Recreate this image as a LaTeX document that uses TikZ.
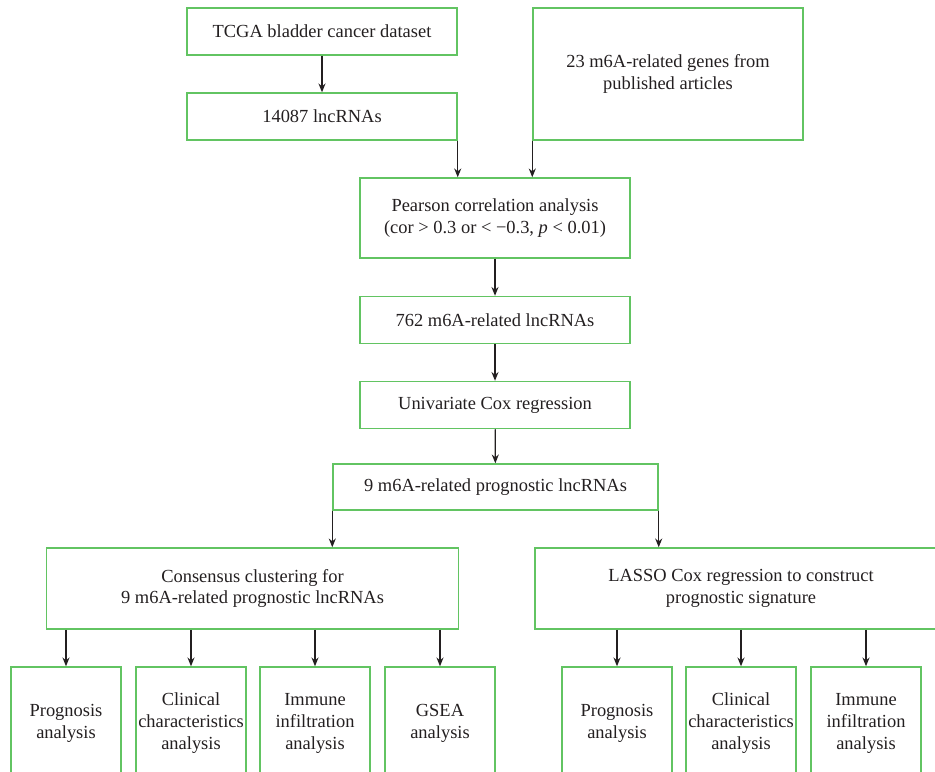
\documentclass[tikz,border=0pt]{standalone}
\usepackage{fontspec}
\setmainfont{Liberation Serif}
\usetikzlibrary{arrows.meta}

\definecolor{boxgreen}{RGB}{98,196,98}
\definecolor{inkgray}{RGB}{35,31,32}

\begin{document}
\begin{tikzpicture}[x=0.02cm, y=-0.02cm, >={Stealth[length=5pt, width=4pt]},
    box/.style={draw=boxgreen, line width=0.85pt, text=inkgray, align=center,
        inner sep=0pt, font=\fontsize{10.5}{12.5}\selectfont},
    midbox/.style={box, minimum width=5.4cm, minimum height=0.94cm},
    bigbox/.style={box, minimum width=8.25cm, minimum height=1.62cm},
    leafbox/.style={box, minimum width=2.2cm, minimum height=2.24cm},
    flow/.style={->, line width=0.7pt, draw=inkgray}]

    % --- Khung ---
    \useasboundingbox (0,0) rectangle (935,771);
    \clip (0,0) rectangle (935,771);

    % --- Dữ liệu đầu vào ---
    \node[midbox] (tcga) at (322, 31.5) {TCGA bladder cancer dataset};
    \node[midbox] (lnc) at (322, 116.5) {14087 lncRNAs};
    \node[box, minimum width=5.4cm, minimum height=2.64cm] (genes) at (668, 74)
        {23 m6A-related genes from\\published articles};

    % --- Lọc lncRNA ---
    \node[box, minimum width=5.4cm, minimum height=1.6cm] (pear) at (495, 218)
        {Pearson correlation analysis\\(cor > 0.3 or < −0.3, \textit{p} < 0.01)};
    \node[midbox] (m762) at (495, 320) {762 m6A-related lncRNAs};
    \node[midbox] (ucox) at (495, 405) {Univariate Cox regression};
    \node[box, minimum width=6.5cm, minimum height=0.92cm] (sig9) at (495.5, 487)
        {9 m6A-related prognostic lncRNAs};

    % --- Hai nhánh ---
    \node[bigbox] (cons) at (252.5, 588.5)
        {Consensus clustering for\\9 m6A-related prognostic lncRNAs};
    \node[bigbox] (lasso) at (741, 588.5)
        {LASSO Cox regression to construct\\prognostic signature};

    % --- Các phân tích ---
    \node[leafbox] (cp) at (66, 723) {Prognosis\\analysis};
    \node[leafbox] (cc) at (191, 723) {Clinical\\characteristics\\analysis};
    \node[leafbox] (ci) at (315, 723) {Immune\\infiltration\\analysis};
    \node[leafbox] (cg) at (440, 723) {GSEA\\analysis};
    \node[leafbox] (lp) at (617, 723) {Prognosis\\analysis};
    \node[leafbox] (lc) at (741, 723) {Clinical\\characteristics\\analysis};
    \node[leafbox] (li) at (866, 723) {Immune\\infiltration\\analysis};

    % --- Mũi tên ---
    \draw[flow] (tcga) -- (lnc);
    \draw[flow] (lnc.south east) -- (lnc.south east |- pear.north);
    \draw[flow] (genes.south west) -- (genes.south west |- pear.north);
    \draw[flow] (pear) -- (m762);
    \draw[flow] (m762) -- (ucox);
    \draw[flow] (ucox) -- (sig9);
    \draw[flow] (sig9.south west) -- (sig9.south west |- cons.north);
    \draw[flow] (sig9.south east) -- (sig9.south east |- lasso.north);
    \foreach \leaf in {cp, cc, ci, cg}
        \draw[flow] (\leaf.north |- cons.south) -- (\leaf.north);
    \foreach \leaf in {lp, lc, li}
        \draw[flow] (\leaf.north |- lasso.south) -- (\leaf.north);
\end{tikzpicture}
\end{document}
